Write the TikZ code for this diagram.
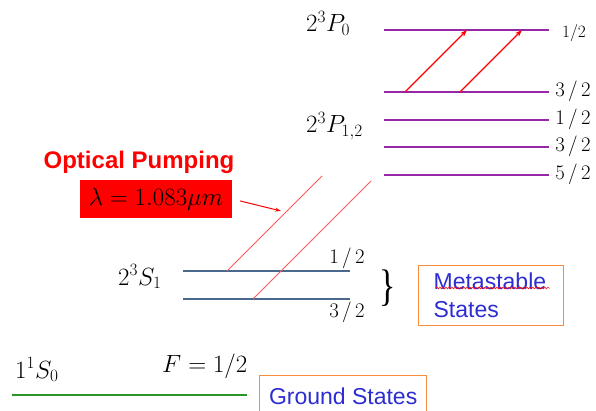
\documentclass[tikz,border=0pt]{standalone}
\usepackage{fontspec}
\setmainfont{Liberation Serif}
\setsansfont{Liberation Sans}
\usetikzlibrary{arrows.meta,decorations.pathmorphing}
\definecolor{levelpurple}{RGB}{150,40,165}
\definecolor{levelblue}{RGB}{75,105,140}
\definecolor{levelgreen}{RGB}{40,150,40}
\definecolor{boxorange}{RGB}{247,140,60}
\definecolor{stateblue}{RGB}{45,45,210}
\definecolor{pumpred}{RGB}{255,90,90}
\tikzset{
  plevel/.style={levelpurple, line width=1.3pt},
  slevel/.style={levelblue, line width=1.3pt},
  glevel/.style={levelgreen, line width=1.1pt},
  term/.style={font=\fontsize{27}{32}\selectfont, anchor=base west, inner sep=0pt},
  flab/.style={font=\fontsize{21}{25}\selectfont, inner sep=0pt},
  statebox/.style={draw=boxorange, line width=1.3pt, text=stateblue,
    font=\sffamily\fontsize{23}{28}\selectfont, align=left},
  pump/.style={pumpred, line width=0.9pt},
  excite/.style={red, line width=1.2pt, -{Stealth[length=7pt,width=5pt]}},
}
\begin{document}
\begin{tikzpicture}[x=1pt,y=-1pt]
\clip (0,0) rectangle (596,411);
\def\xPa{384};
\def\xPb{549};
% 2^3P levels
\foreach \n/\y in {pzero/30, pa/92, pb/120, pc/147, pd/175}{
  \coordinate (\n-w) at (\xPa,\y);
  \coordinate (\n-e) at (\xPb,\y);
  \draw[plevel] (\n-w) -- (\n-e);
}
\node[flab, font=\fontsize{16}{20}\selectfont] (pzero-lab) at (574,33) {$1/2$};
\node[flab] (pa-lab) at (573,91) {$3\,/\,2$};
\node[flab] (pb-lab) at (573,119) {$1\,/\,2$};
\node[flab] (pc-lab) at (573,146) {$3\,/\,2$};
\node[flab] (pd-lab) at (573,174) {$5\,/\,2$};
\node[term] (p0-term) at (306,32) {$2^3P_0$};
\node[term] (p12-term) at (306,133) {$2^3P_{1,2}$};
% excitation inside 2^3P
\coordinate (pa-1) at (405,92);
\coordinate (pa-2) at (460,92);
\coordinate (pzero-1) at (467,30);
\coordinate (pzero-2) at (522,30);
\draw[excite] (pa-1) -- (pzero-1);
\draw[excite] (pa-2) -- (pzero-2);
% 2^3S_1 levels
\def\xSa{183};
\def\xSb{350};
\coordinate (sa-w) at (\xSa,271);
\coordinate (sa-e) at (\xSb,271);
\coordinate (sb-w) at (\xSa,299);
\coordinate (sb-e) at (\xSb,299);
\draw[slevel] (sa-w) -- (sa-e);
\draw[slevel] (sb-w) -- (sb-e);
\node[flab, font=\fontsize{20}{24}\selectfont] (sa-lab) at (347,258) {$1\,/\,2$};
\node[flab, font=\fontsize{20}{24}\selectfont] (sb-lab) at (347,312) {$3\,/\,2$};
\node[term] (s1-term) at (118,285) {$2^3S_1$};
\node[inner sep=0pt, yscale=1.3, font=\fontsize{34}{34}\selectfont] (brace) at (388,288) {\}};
% optical pumping
\coordinate (sa-1) at (227,271);
\coordinate (pump-1) at (322,176);
\coordinate (sb-1) at (253,299);
\coordinate (pump-2) at (371,181);
\draw[pump] (sa-1) -- (pump-1);
\draw[pump] (sb-1) -- (pump-2);
\node[text=red, font=\sffamily\bfseries\fontsize{24}{28}\selectfont] (optpump) at (139,162) {Optical Pumping};
\node[fill=red, minimum width=152pt, minimum height=38pt, inner sep=0pt,
  font=\fontsize{25}{30}\selectfont] (lam) at (156,199) {$\lambda=1.083\mu m$};
\coordinate (ptr) at (281,211);
\draw[red, line width=1pt, -{Stealth[length=6pt,width=4pt]}, shorten <=8pt] (lam.east) -- (ptr);
% states boxes
\node[statebox, anchor=north west, minimum width=145pt, minimum height=60pt,
  text width=115pt, inner xsep=15pt] (meta) at (418,265) {Metastable\\States};
\draw[red, line width=0.5pt, decorate, decoration={snake, amplitude=0.9pt, segment length=3pt}]
  (436,288) -- (550,288);
% ground state
\coordinate (g-w) at (12,395);
\coordinate (g-e) at (247,395);
\draw[glevel] (g-w) -- (g-e);
\node[term] (g-term) at (15,378) {$1^1S_0$};
\node[term, font=\fontsize{24}{28}\selectfont] (g-f) at (162,372) {$F=1/2$};
\node[statebox, anchor=north west, minimum width=167pt, minimum height=42pt] (ground) at (259,375) {Ground States};
\end{tikzpicture}
\end{document}
